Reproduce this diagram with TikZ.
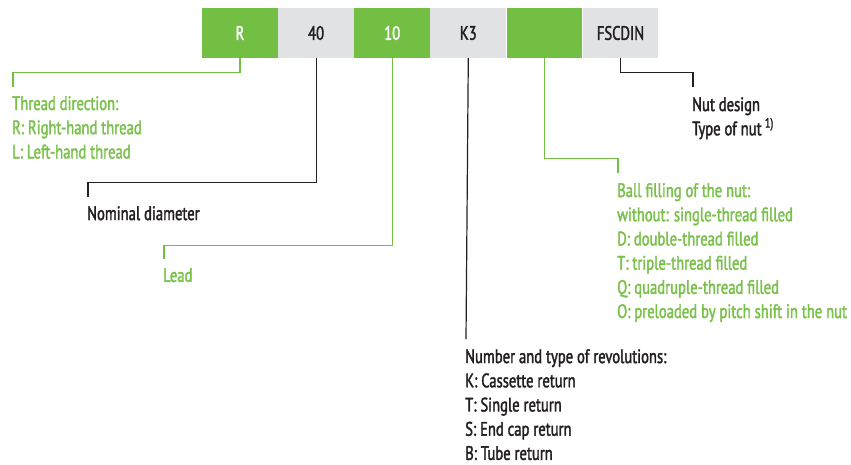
\documentclass[tikz,border=0pt]{standalone}
\usepackage{fontspec}
\newfontfamily\dinfont[FakeStretch=0.75, FakeBold=1.8]{PT Sans}
\usepackage{xcolor}
\usepackage{tikz}
\usetikzlibrary{positioning}

\definecolor{codegreen}{HTML}{72BF44}
\definecolor{codegrey}{HTML}{E1E2E3}
\definecolor{txtgreen}{HTML}{7AC14B}
\definecolor{txtdark}{HTML}{231F20}

\begin{document}
\begin{tikzpicture}[
x=1pt, y=1pt,
node distance=0pt,
field/.style={minimum width=75.7pt, minimum height=50pt, inner sep=0pt, font=\dinfont\fontsize{19.5}{24}\selectfont},
gfield/.style={field, fill=codegreen, text=white},
pfield/.style={field, fill=codegrey, text=txtdark},
legend/.style={anchor=north west, inner sep=0pt, align=left, font=\dinfont\fontsize{19.5}{24.2}\selectfont},
gtext/.style={legend, text=txtgreen},
ktext/.style={legend, text=txtdark},
gline/.style={draw=codegreen, line width=1.2pt},
kline/.style={draw=txtdark, line width=1.2pt}
]
\useasboundingbox (0,0) rectangle (851,-464);

% order code
\node[gfield] (dir) at (240,-33) {R};
\node[pfield, right=of dir] (dia) {40};
\node[gfield, right=of dia] (lead) {10};
\node[pfield, right=of lead] (rev) {K3};
\node[gfield, right=of rev] (fill) {};
\node[pfield, right=of fill] (nut) {FSCDIN};

% explanations
\node[gtext] (dirtxt) at (12,-96) {Thread direction:\\R: Right-hand thread\\L: Left-hand thread};
\node[ktext] (diatxt) at (87,-206) {Nominal diameter};
\node[gtext] (leadtxt) at (163,-268) {Lead};
\node[ktext] (revtxt) at (465,-349) {Number and type of revolutions:\\K: Cassette return\\T: Single return\\S: End cap return\\B: Tube return};
\node[gtext] (filltxt) at (617,-183) {Ball filling of the nut:\\without: single-thread filled\\D: double-thread filled\\T: triple-thread filled\\Q: quadruple-thread filled\\O: preloaded by pitch shift in the nut};
\node[ktext] (nuttxt) at (692,-97) {Nut design\\Type of nut\,\textsuperscript{1)}};

% leader lines
\draw[gline] (dir.south) -- ++(0,-14) -| ([shift={(1pt,9pt)}]dirtxt.north west);
\draw[kline] (dia.south) -- ++(0,-124) -| ([shift={(1pt,9pt)}]diatxt.north west);
\draw[gline] (lead.south) -- ++(0,-187) -| ([shift={(1pt,9pt)}]leadtxt.north west);
\draw[kline] (rev.south) -- ([shift={(1pt,10pt)}]revtxt.north west);
\draw[gline] (fill.south) -- ++(0,-100) -| ([shift={(1pt,10pt)}]filltxt.north west);
\draw[kline] (nut.south) -- ++(0,-14) -| ([shift={(1pt,10pt)}]nuttxt.north west);
\end{tikzpicture}
\end{document}
